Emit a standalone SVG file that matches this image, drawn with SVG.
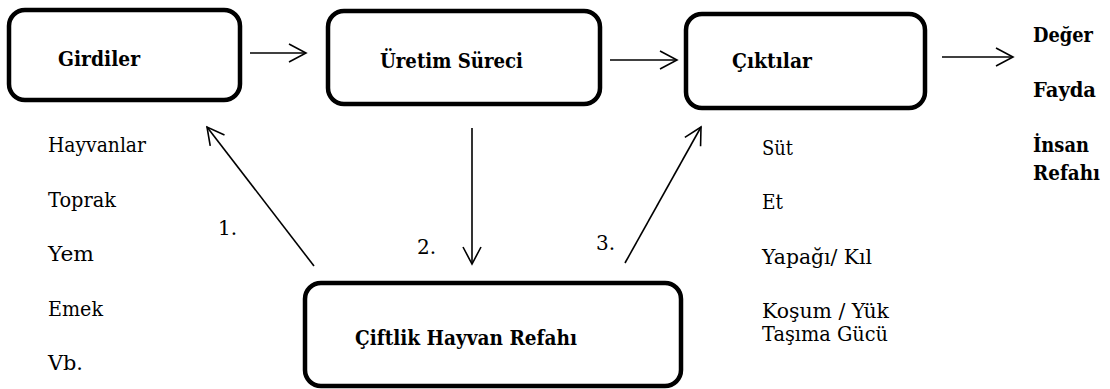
<svg xmlns="http://www.w3.org/2000/svg" width="1110" height="389" viewBox="0 0 1110 389">
<style>
.box{fill:#fff;stroke:#000;stroke-width:4.5}
text{font-family:'DejaVu Serif','Liberation Serif',serif;font-size:20px;fill:#000}
.b{font-weight:bold}
.ln{stroke:#000;stroke-width:1.6;fill:none}
</style>
<defs>
<marker id="ah" viewBox="0 0 20 20" refX="18" refY="10" markerWidth="20" markerHeight="20" markerUnits="userSpaceOnUse" orient="auto">
<path d="M1,1 L18,10 L1,19" fill="none" stroke="#000" stroke-width="1.6"/>
</marker>
</defs>
<rect width="1110" height="389" fill="#fff"/>
<g id="girdiler">
<rect class="box" x="9" y="10" width="231" height="90" rx="16"/>
<text class="b" x="58" y="66" textLength="82" lengthAdjust="spacingAndGlyphs">Girdiler</text>
</g>
<g id="uretim">
<rect class="box" x="328" y="11" width="272" height="93" rx="16"/>
<text class="b" x="380" y="68" textLength="143" lengthAdjust="spacingAndGlyphs">Üretim Süreci</text>
</g>
<g id="ciktilar">
<rect class="box" x="686" y="14" width="239" height="94" rx="16"/>
<text class="b" x="732" y="68" textLength="80" lengthAdjust="spacingAndGlyphs">Çıktılar</text>
</g>
<g id="refah">
<rect class="box" x="305" y="283" width="376" height="103" rx="16"/>
<text class="b" x="355" y="345" textLength="222" lengthAdjust="spacingAndGlyphs">Çiftlik Hayvan Refahı</text>
</g>
<g id="connectors">
<line class="ln" x1="250" y1="53" x2="306" y2="53" marker-end="url(#ah)"/>
<line class="ln" x1="610" y1="60" x2="677" y2="60" marker-end="url(#ah)"/>
<line class="ln" x1="942" y1="57" x2="1013" y2="57" marker-end="url(#ah)"/>
<line class="ln" x1="314" y1="266" x2="207" y2="127" marker-end="url(#ah)"/>
<line class="ln" x1="472" y1="128" x2="472" y2="264" marker-end="url(#ah)"/>
<line class="ln" x1="625" y1="263" x2="701" y2="127" marker-end="url(#ah)"/>
</g>
<g id="inputs">
<text x="48" y="152" textLength="98" lengthAdjust="spacingAndGlyphs">Hayvanlar</text>
<text x="48" y="207" textLength="68" lengthAdjust="spacingAndGlyphs">Toprak</text>
<text x="48" y="261" textLength="46" lengthAdjust="spacingAndGlyphs">Yem</text>
<text x="48" y="316" textLength="55" lengthAdjust="spacingAndGlyphs">Emek</text>
<text x="48" y="370" textLength="35" lengthAdjust="spacingAndGlyphs">Vb.</text>
</g>
<g id="labels">
<text x="218" y="235">1.</text>
<text x="417" y="254">2.</text>
<text x="596" y="250">3.</text>
</g>
<g id="outputs">
<text x="762" y="155" textLength="31" lengthAdjust="spacingAndGlyphs">Süt</text>
<text x="762" y="209" textLength="21" lengthAdjust="spacingAndGlyphs">Et</text>
<text x="762" y="264" textLength="110" lengthAdjust="spacingAndGlyphs">Yapağı/ Kıl</text>
<text x="762" y="318" textLength="127" lengthAdjust="spacingAndGlyphs">Koşum / Yük</text>
<text x="762" y="341" textLength="126" lengthAdjust="spacingAndGlyphs">Taşıma Gücü</text>
</g>
<g id="results">
<text class="b" x="1033" y="42" textLength="60" lengthAdjust="spacingAndGlyphs">Değer</text>
<text class="b" x="1033" y="97" textLength="63" lengthAdjust="spacingAndGlyphs">Fayda</text>
<text class="b" x="1033" y="152" textLength="56" lengthAdjust="spacingAndGlyphs">İnsan</text>
<text class="b" x="1033" y="180" textLength="67" lengthAdjust="spacingAndGlyphs">Refahı</text>
</g>
</svg>
